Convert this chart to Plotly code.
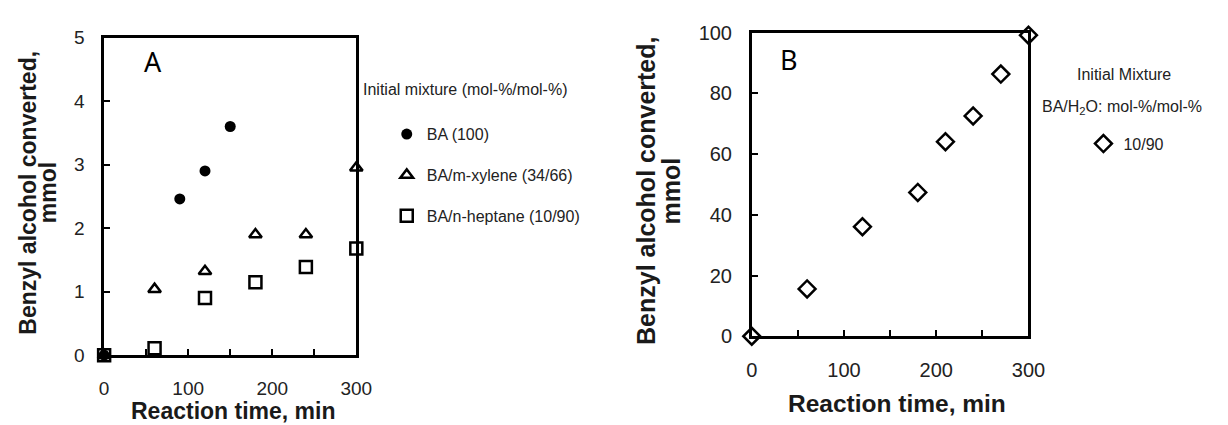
import plotly.graph_objects as go

# ---------------- data ----------------
# Panel A
ba_time = [0, 90, 120, 150]
ba_conv = [0, 2.46, 2.90, 3.60]

xyl_time = [0, 60, 120, 180, 240, 300]
xyl_conv = [0, 1.04, 1.32, 1.90, 1.90, 2.95]

hep_time = [0, 60, 120, 180, 240, 300]
hep_conv = [0, 0.11, 0.90, 1.15, 1.39, 1.68]

# Panel B
w_time = [0, 60, 120, 180, 210, 240, 270, 300]
w_conv = [0, 15.6, 36.1, 47.4, 64.1, 72.6, 86.4, 99.2]

x_tickvals = [0, 50, 100, 150, 200, 250, 300]
x_ticktext = ["0", "", "100", "", "200", "", "300"]
yA_ticks = [0, 1, 2, 3, 4, 5]
yB_ticks = [0, 20, 40, 60, 80, 100]

W, H = 1228, 425
FONT = "Liberation Sans, Arial, sans-serif"


def px(x):
    return x / W


def py(y):
    return 1 - y / H


fig = go.Figure()

fig.add_trace(go.Scatter(x=ba_time, y=ba_conv, mode="markers", name="BA (100)",
                         marker=dict(symbol="circle", size=11, color="black"),
                         xaxis="x", yaxis="y", legend="legend", legendgroup="a1",
                         cliponaxis=False))
fig.add_trace(go.Scatter(x=xyl_time, y=xyl_conv, mode="markers", name="BA/m-xylene (34/66)",
                         marker=dict(symbol="triangle-up-open", size=11, color="black",
                                     line=dict(width=2.5, color="black")),
                         xaxis="x", yaxis="y", legend="legend", legendgroup="a2",
                         cliponaxis=False))
fig.add_trace(go.Scatter(x=hep_time, y=hep_conv, mode="markers", name="BA/n-heptane (10/90)",
                         marker=dict(symbol="square-open", size=12, color="black",
                                     line=dict(width=2.5, color="black")),
                         xaxis="x", yaxis="y", legend="legend", legendgroup="a3",
                         cliponaxis=False))
fig.add_trace(go.Scatter(x=w_time, y=w_conv, mode="markers", name="10/90",
                         marker=dict(symbol="diamond-open", size=13, color="black",
                                     line=dict(width=2.5, color="black")),
                         xaxis="x2", yaxis="y2", legend="legend2",
                         cliponaxis=False))

axis_common = dict(showline=True, linecolor="black", linewidth=2.5, mirror=True,
                   ticks="inside", ticklen=6, tickwidth=2, tickcolor="black",
                   showgrid=False, zeroline=False)

fig.update_layout(
    width=W, height=H,
    margin=dict(l=0, r=0, t=0, b=0),
    paper_bgcolor="white", plot_bgcolor="white",
    font=dict(family=FONT, color="#1a1a1a"),
    xaxis=dict(domain=[px(100), px(357)], range=[0, 300], anchor="y",
               tickmode="array", tickvals=x_tickvals, ticktext=x_ticktext,
               tickfont=dict(size=19, family=FONT, color="#222"),
               ticklabelstandoff=14, **axis_common),
    yaxis=dict(domain=[py(363), py(28)], range=[0, 5], anchor="x",
               tickmode="array", tickvals=yA_ticks,
               tickfont=dict(size=19, family=FONT, color="#222"),
               ticklabelstandoff=13, **axis_common),
    xaxis2=dict(domain=[px(760), px(1042)], range=[0, 300], anchor="y2",
                tickmode="array", tickvals=x_tickvals, ticktext=x_ticktext,
                tickfont=dict(size=20, family=FONT, color="#222"),
                ticklabelstandoff=14, **axis_common),
    yaxis2=dict(domain=[py(343), py(23)], range=[0, 100], anchor="x2",
                tickmode="array", tickvals=yB_ticks,
                tickfont=dict(size=20, family=FONT, color="#222"),
                ticklabelstandoff=13, **axis_common),
    legend=dict(x=px(388), y=py(112), xanchor="left", yanchor="top",
                font=dict(size=16, family=FONT, color="#222"),
                traceorder="grouped", tracegroupgap=17, bgcolor="rgba(0,0,0,0)",
                itemsizing="trace", itemwidth=30),
    legend2=dict(x=px(1098), y=py(122), xanchor="left", yanchor="top",
                 font=dict(size=16, family=FONT, color="#222"), bgcolor="rgba(0,0,0,0)"),
    showlegend=True,
)

ann = []
# panel letters
ann.append(dict(text="A", x=px(150), y=py(53), font=dict(size=27, family="Noto Sans", color="black")))
ann.append(dict(text="B", x=px(798), y=py(51), font=dict(size=27, family="Noto Sans", color="black")))
# y titles
bold = dict(family=FONT, color="#1a1a1a")
ann.append(dict(text="<b>Benzyl alcohol converted,</b>", x=px(22), y=py(192), textangle=-90,
                font=dict(size=23, **bold)))
ann.append(dict(text="<b>mmol</b>", x=px(43), y=py(192), textangle=-90, font=dict(size=23, **bold)))
ann.append(dict(text="<b>Benzyl alcohol converted,</b>", x=px(652), y=py(190), textangle=-90,
                font=dict(size=25, **bold)))
ann.append(dict(text="<b>mmol</b>", x=px(678), y=py(190), textangle=-90, font=dict(size=25, **bold)))
# x titles
ann.append(dict(text="<b>Reaction time, min</b>", x=px(231), y=py(422), font=dict(size=23, **bold)))
ann.append(dict(text="<b>Reaction time, min</b>", x=px(908), y=py(414), font=dict(size=24.5, **bold)))
# legend titles
ann.append(dict(text="Initial mixture (mol-%/mol-%)", x=px(362), y=py(83), xanchor="left",
                font=dict(size=16, family=FONT, color="#222")))
ann.append(dict(text="Initial Mixture", x=px(1139), y=py(67),
                font=dict(size=16, family=FONT, color="#222")))
ann.append(dict(text="BA/H<sub>2</sub>O: mol-%/mol-%", x=px(1137), y=py(102),
                font=dict(size=16, family=FONT, color="#222")))

for a in ann:
    a.setdefault("xanchor", "center")
    a.update(xref="paper", yref="paper", yanchor="middle", showarrow=False)
fig.update_layout(annotations=ann)

fig.write_html("out.html")
